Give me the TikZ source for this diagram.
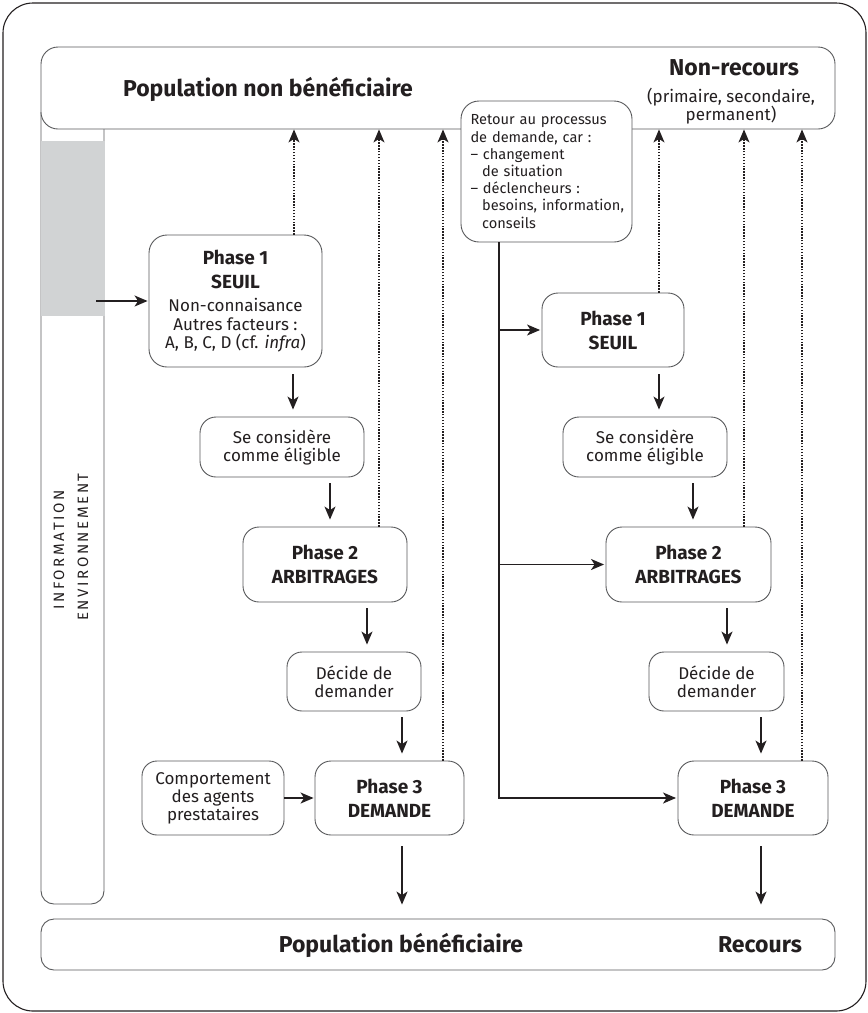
\documentclass[tikz,border=0pt]{standalone}
\usepackage{fontspec}
\setmainfont{Fira Sans}
\usetikzlibrary{arrows.meta,calc}
\definecolor{txt}{HTML}{231F20}
\definecolor{bord}{HTML}{58595B}
\definecolor{grayfill}{HTML}{D1D3D4}
\begin{document}
\begin{tikzpicture}[x=1pt,y=-1pt,
  box/.style={draw=bord, line width=0.9pt, rounded corners=16pt, fill=white, inner sep=0pt, align=center, text=txt},
  arr/.style={-{Stealth[length=13pt,width=11pt,inset=3.5pt]}, line width=1.3pt, draw=txt},
  dotarr/.style={-{Stealth[length=13pt,width=11pt,inset=3.5pt]}, line width=1.1pt, dash pattern=on 1.4pt off 1.5pt, draw=txt},
  body/.style={font=\fontsize{17}{18}\selectfont},
  phase/.style={font=\fontsize{19}{24}\selectfont\bfseries},
  bigt/.style={font=\fontsize{23}{26}\selectfont\bfseries, text=txt, inner sep=0pt},
  vtext/.style={font=\fontsize{15}{16}\selectfont, text=txt, rotate=90, inner sep=0pt},
]
\useasboundingbox (0,0) rectangle (868,1013);
% outer frame
\node[draw=txt, line width=1.1pt, rounded corners=30pt, minimum width=863pt, minimum height=1008pt, inner sep=0pt] (frame) at (434.5,507) {};
% left strip
\draw[draw=bord, line width=0.9pt, rounded corners=13pt] (41,112) -- (41,904) -- (104,904) -- (104,129);
\fill[grayfill] (41,141) rectangle (104.5,316);
\node[vtext] (info) at (59,550) {\addfontfeature{LetterSpace=17}INFORMATION};
\node[vtext] (envi) at (83,547) {\addfontfeature{LetterSpace=17}ENVIRONNEMENT};
% top box
\node[box, rounded corners=17pt, minimum width=794pt, minimum height=82pt] (top) at (438,88) {};
\node[bigt] (popnb) at (268,89) {Population non bénéficiaire};
\node[bigt] (nonrec) at (734,68) {Non-recours};
\node[body, text=txt, align=center, inner sep=0pt] (nrdet) at (731,106) {(primaire, secondaire,\\permanent)};
% bottom box
\node[box, rounded corners=13pt, minimum width=794pt, minimum height=51pt] (bot) at (438,944.5) {};
\node[bigt] (popb) at (401,945) {Population bénéficiaire};
\node[bigt] (recours) at (760,945) {Recours};
% left column
\node[box, rounded corners=18pt, minimum width=173pt, minimum height=132pt, font=\fontsize{17}{18.5}\selectfont] (p1L) at (235.5,301)
  {{\fontsize{19}{24}\selectfont\bfseries Phase 1}\\[5.5pt]{\fontsize{19}{24}\selectfont\bfseries SEUIL}\\[5pt]
   Non-connaisance\\Autres facteurs :\\A, B, C, D (cf. \textit{infra})};
\node[box, body, minimum width=164pt, minimum height=60pt] (seL) at (282,447) {Se considère\\comme éligible};
\node[box, phase, minimum width=164pt, minimum height=75pt] (p2L) at (325,564.5) {Phase 2\\ARBITRAGES};
\node[box, body, rounded corners=15pt, minimum width=134pt, minimum height=59pt] (deL) at (354,681.5) {Décide de\\demander};
\node[box, phase, minimum width=149pt, minimum height=74pt] (p3L) at (389.5,798) {Phase 3\\DEMANDE};
\node[box, body, rounded corners=15pt, minimum width=142pt, minimum height=74pt] (comp) at (213,798) {Comportement\\des agents\\prestataires};
% right column
\node[box, rounded corners=18pt, minimum width=171pt, minimum height=141pt, text width=158pt, inner xsep=0pt, align=left,
  font=\fontsize{14.6}{17.2}\selectfont] (ret) at (546.5,171.5)
  {\hspace*{3pt}Retour au processus\\\hspace*{3pt}de demande, car :\\\hspace*{3pt}– changement\\\hspace*{3pt}\hspace*{0.8em}de situation\\\hspace*{3pt}– déclencheurs :\\\hspace*{3pt}\hspace*{0.8em}besoins, information,\\\hspace*{3pt}\hspace*{0.8em}conseils};
\node[box, phase, minimum width=142pt, minimum height=74pt] (p1R) at (613,330) {Phase 1\\SEUIL};
\node[box, body, minimum width=164pt, minimum height=60pt] (seR) at (645,447) {Se considère\\comme éligible};
\node[box, phase, minimum width=165pt, minimum height=75pt] (p2R) at (688.5,564.5) {Phase 2\\ARBITRAGES};
\node[box, body, rounded corners=15pt, minimum width=135pt, minimum height=59pt] (deR) at (716.5,681.5) {Décide de\\demander};
\node[box, phase, minimum width=150pt, minimum height=74pt] (p3R) at (753,798) {Phase 3\\DEMANDE};
% arrow x positions
\coordinate (a1) at (293,0);
\coordinate (a2) at (330,0);
\coordinate (a3) at (367,0);
\coordinate (a4) at (402,0);
\coordinate (b1) at (659,0);
\coordinate (b2) at (693,0);
\coordinate (b3) at (727,0);
\coordinate (b4) at (761,0);
\coordinate (r0) at (499,0);
\coordinate (d1) at (294,0);
\coordinate (d2) at (379,0);
\coordinate (d3) at (443,0);
\coordinate (d4) at (659,0);
\coordinate (d5) at (744,0);
\coordinate (d6) at (802,0);
\coordinate (e0) at (96,301);
% solid arrows left
\draw[arr, shorten <=7pt, shorten >=7pt] (p1L.south -| a1) -- (seL.north -| a1);
\draw[arr, shorten <=6pt, shorten >=7pt] (seL.south -| a2) -- (p2L.north -| a2);
\draw[arr, shorten <=6pt, shorten >=7pt] (p2L.south -| a3) -- (deL.north -| a3);
\draw[arr, shorten <=6pt, shorten >=7pt] (deL.south -| a4) -- (p3L.north -| a4);
\draw[arr, shorten <=11pt, shorten >=14pt] (p3L.south -| a4) -- (bot.north -| a4);
\draw[arr, shorten >=1pt] (comp.east) -- (p3L.west);
\draw[arr, shorten >=1pt] (e0) -- (p1L.west);
% solid arrows right
\draw[arr, shorten <=7pt, shorten >=7pt] (p1R.south -| b1) -- (seR.north -| b1);
\draw[arr, shorten <=6pt, shorten >=7pt] (seR.south -| b2) -- (p2R.north -| b2);
\draw[arr, shorten <=6pt, shorten >=7pt] (p2R.south -| b3) -- (deR.north -| b3);
\draw[arr, shorten <=6pt, shorten >=7pt] (deR.south -| b4) -- (p3R.north -| b4);
\draw[arr, shorten <=11pt, shorten >=14pt] (p3R.south -| b4) -- (bot.north -| b4);
\draw[arr, shorten >=1.5pt] (ret.south -| r0) |- (p3R.west);
\draw[arr, shorten >=1.5pt] (r0 |- p1R.west) -- (p1R.west);
\draw[arr, shorten >=1.5pt] (r0 |- p2R.west) -- (p2R.west);
% dotted arrows
\draw[dotarr] (p1L.north -| d1) -- (top.south -| d1);
\draw[dotarr] (p2L.north -| d2) -- (top.south -| d2);
\draw[dotarr] (p3L.north -| d3) -- (top.south -| d3);
\draw[dotarr] (p1R.north -| d4) -- (top.south -| d4);
\draw[dotarr] (p2R.north -| d5) -- (top.south -| d5);
\draw[dotarr] (p3R.north -| d6) -- (top.south -| d6);
\end{tikzpicture}
\end{document}
